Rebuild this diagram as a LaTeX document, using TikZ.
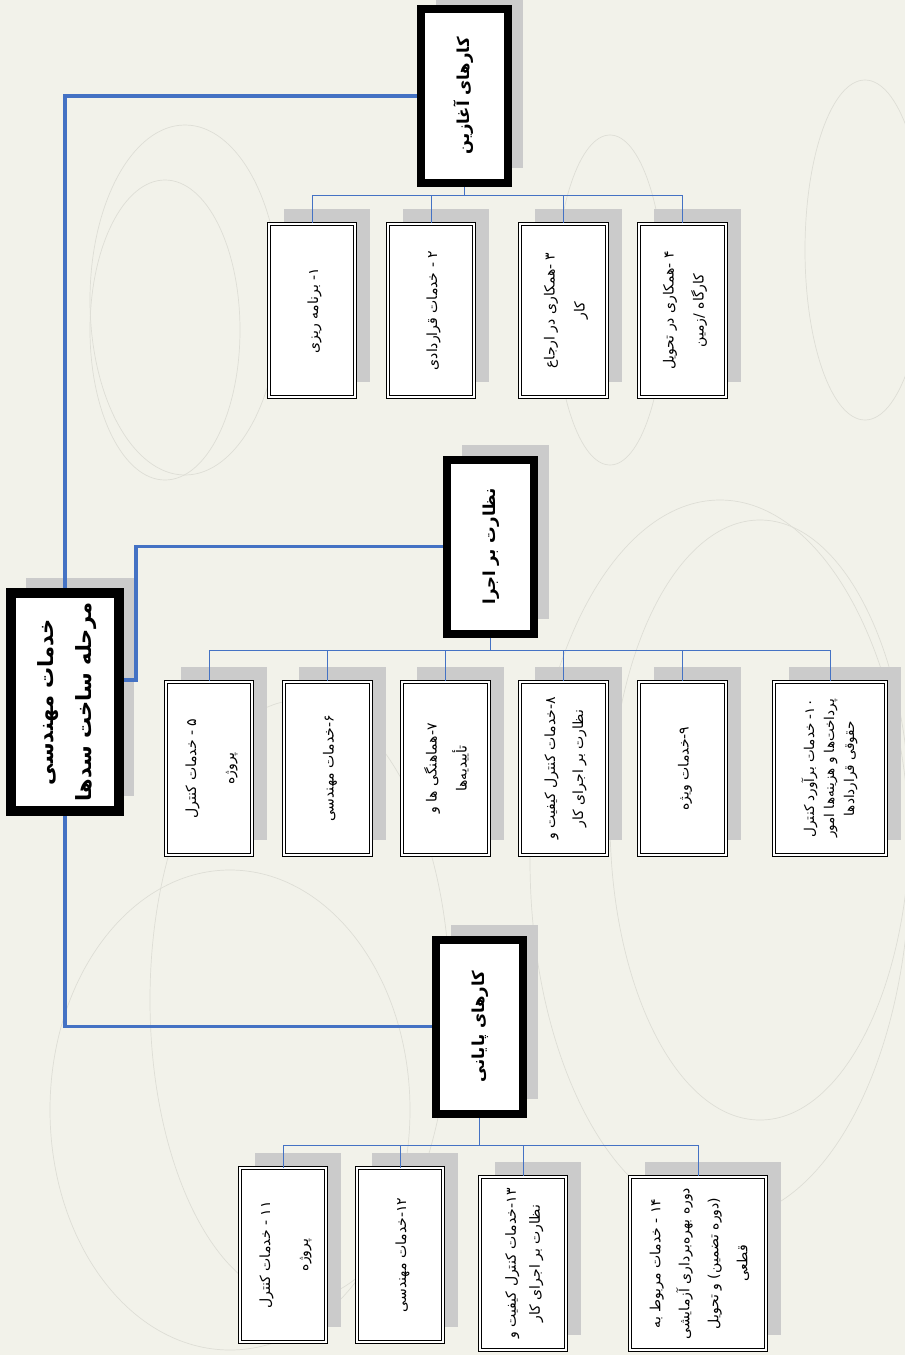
\documentclass[tikz,border=0pt]{standalone}
\usepackage{fontspec}
\usepackage{graphicx}
\newfontfamily\farsi[Script=Arabic]{DejaVu Sans}
\TeXXeTstate=1
\usetikzlibrary{shadows}

\definecolor{paper}{HTML}{F2F2EA}
\definecolor{linkblue}{HTML}{4472C4}
\definecolor{shadowgray}{HTML}{CBCBCB}
\definecolor{swirl}{HTML}{DEDED6}

\newcommand{\R}[1]{\beginR #1\endR}
\newcommand{\vtext}[1]{\rotatebox{90}{\begin{tabular}{@{}c@{}}#1\end{tabular}}}

\tikzset{
  boxshadow/.style={drop shadow={shadow xshift=15pt, shadow yshift=15pt, opacity=1, fill=shadowgray}},
  rootbox/.style={draw=black, fill=white, line width=10pt, minimum width=108pt, minimum height=218pt,
    inner sep=0pt, boxshadow, font=\farsi\bfseries\fontsize{21}{38}\selectfont},
  phasebox/.style={draw=black, fill=white, line width=8pt, minimum width=87pt, minimum height=174pt,
    inner sep=0pt, boxshadow, font=\farsi\bfseries\fontsize{16.5}{24}\selectfont},
  taskbox/.style={draw=black, double=white, double distance=2pt, line width=0.8pt, fill=white,
    minimum width=86.5pt, minimum height=173.5pt, inner sep=0pt, boxshadow,
    font=\farsi\fontsize{14}{30}\selectfont},
  mainlink/.style={linkblue, line width=3.5pt},
  sublink/.style={linkblue, line width=1pt},
}

\begin{document}
\begin{tikzpicture}[x=1pt, y=-1pt]
\fill[paper] (0,0) rectangle (905,1355);
\useasboundingbox (0,0) rectangle (905,1355);

% faint swirls in the backdrop
\begin{scope}[swirl, line width=0.7pt]
\draw (165,330) ellipse [x radius=75, y radius=150];
\draw (185,300) ellipse [x radius=95, y radius=175];
\draw (865,250) ellipse [x radius=60, y radius=170];
\draw (610,300) ellipse [x radius=55, y radius=165];
\draw (720,860) ellipse [x radius=190, y radius=360];
\draw (760,820) ellipse [x radius=150, y radius=300];
\draw (230,1110) ellipse [x radius=180, y radius=240];
\draw (300,1000) ellipse [x radius=150, y radius=300];
\end{scope}

% root
\node[rootbox] (root) at (65,702) {\vtext{\R{خدمات مهندسی}\\\R{مرحله ساخت سدها}}};

% phases
\node[phasebox] (L1a) at (464.5,96) {\vtext{\R{کارهای آغازین}}};
\node[phasebox] (L1b) at (490.5,546.5) {\vtext{\R{نظارت بر اجرا}}};
\node[phasebox] (L1c) at (479.5,1026.5) {\vtext{\R{کارهای پایانی}}};

% tasks of the first phase
\node[taskbox] (c1) at (312,310.5) {\vtext{\R{۱- برنامه ریزی}}};
\node[taskbox] (c2) at (431,310.5) {\vtext{\R{۲ - خدمات قراردادی}}};
\node[taskbox] (c3) at (563.5,310.5) {\vtext{\R{۳ -همکاری  در ارجاع}\\\R{کار}}};
\node[taskbox] (c4) at (682.5,310.5) {\vtext{\R{۴ -همکاری  در تحویل}\\\R{کارگاه /زمین}}};

% tasks of the second phase
\node[taskbox] (c5) at (209,768.5) {\vtext{\R{۵ - خدمات کنترل}\\[8pt]\R{پروژه}}};
\node[taskbox] (c6) at (327.5,768.5) {\vtext{\R{۶-خدمات مهندسی}}};
\node[taskbox] (c7) at (445.5,768.5) {\vtext{\R{۷-هماهنگی ها و}\\\R{تأییدیه‌ها}}};
\node[taskbox, font=\farsi\fontsize{14}{28}\selectfont] (c8) at (563.5,768.5)
  {\vtext{\R{۸-خدمات کنترل کیفیت و}\\\R{نظارت بر اجرای کار}}};
\node[taskbox] (c9) at (682.5,768.5) {\vtext{\R{۹-خدمات ویژه}}};
\node[taskbox, minimum width=112.5pt, font=\farsi\fontsize{13.5}{20}\selectfont] (c10) at (830,768.5)
  {\vtext{\R{۱۰- خدمات برآورد کنترل}\\\R{پرداخت‌ها و هزینه‌ها امور}\\\R{حقوقی قراردادها}}};

% tasks of the third phase
\node[taskbox] (c11) at (283,1255) {\vtext{\R{۱۱ - خدمات کنترل}\\[8pt]\R{پروژه}}};
\node[taskbox] (c12) at (400,1255) {\vtext{\R{۱۲-خدمات مهندسی}}};
\node[taskbox, font=\farsi\fontsize{14}{24}\selectfont] (c13) at (523,1263.5)
  {\vtext{\R{۱۳-خدمات کنترل کیفیت و}\\\R{نظارت بر اجرای کار}}};
\node[taskbox, minimum width=136.5pt, font=\farsi\fontsize{14}{29}\selectfont] (c14) at (698,1263.5)
  {\vtext{\R{۱۴ - خدمات مربوط به}\\\R{دوره بهره‌برداری آزمایشی}\\\R{(دوره تضمین) و تحویل}\\\R{قطعی}}};

% root to phases
\draw[mainlink] (root.north) |- (L1a.west);
\coordinate (r2) at (136,680);
\draw[mainlink] (root.east |- r2) -- (r2) |- (L1b.west);
\draw[mainlink] (root.south) |- (L1c.west);

% phases to tasks
\draw[sublink] (L1a.south) -- ++(0,8) coordinate (b1);
\foreach \t in {c1,c2,c3,c4} \draw[sublink] (b1) -| (\t.north);
\draw[sublink] (L1b.south) -- ++(0,13) coordinate (b2);
\foreach \t in {c5,c6,c7,c8,c9,c10} \draw[sublink] (b2) -| (\t.north);
\draw[sublink] (L1c.south) -- ++(0,28) coordinate (b3);
\foreach \t in {c11,c12,c13,c14} \draw[sublink] (b3) -| (\t.north);

\end{tikzpicture}
\end{document}
